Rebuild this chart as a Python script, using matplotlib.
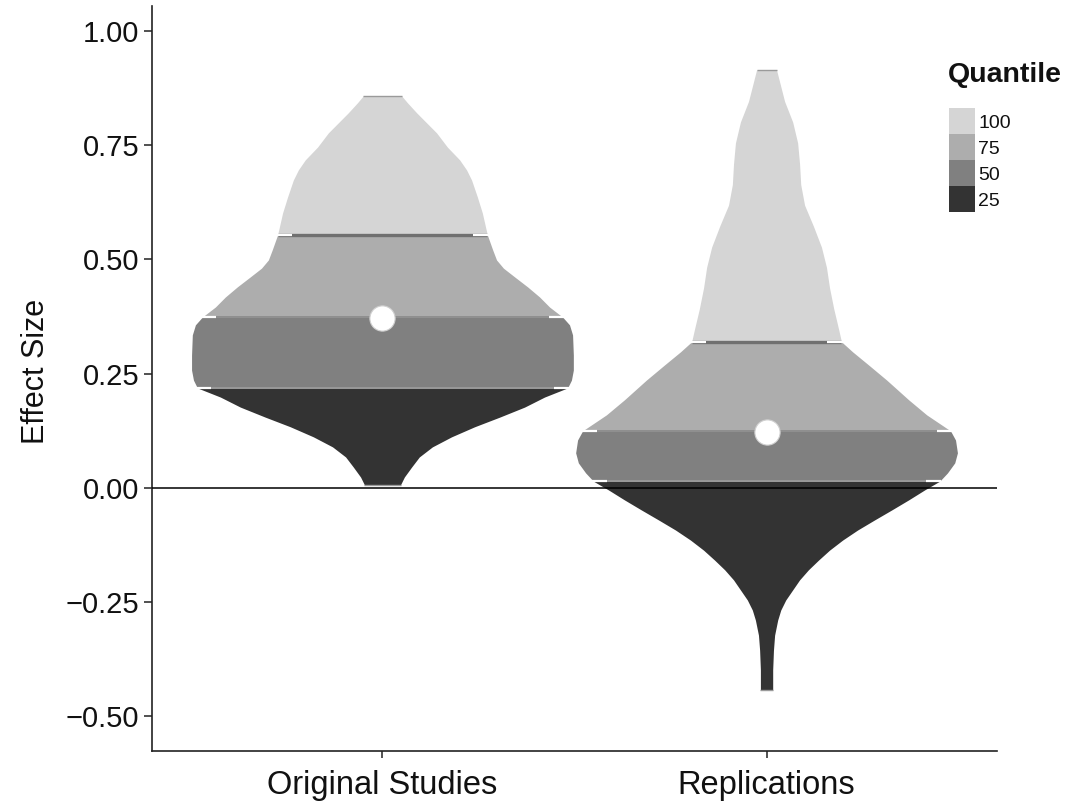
import numpy as np
import matplotlib
matplotlib.use("Agg")
import matplotlib.pyplot as plt
from matplotlib.patches import Rectangle

plt.rcParams['font.family'] = ['Liberation Sans', 'DejaVu Sans']

# ---------------- data ----------------
categories = ["Original Studies", "Replications"]

# violin outline: effect-size values and half-widths (density profile)
orig_y = [0.007, 0.024, 0.046, 0.068, 0.090, 0.112, 0.134, 0.155, 0.177, 0.199,
          0.219, 0.236, 0.258, 0.291, 0.335, 0.357, 0.374, 0.396, 0.418, 0.440,
          0.462, 0.481, 0.499, 0.521, 0.554, 0.602, 0.637, 0.674, 0.696, 0.718,
          0.746, 0.777, 0.799, 0.821, 0.843, 0.858]
orig_w = [0.047, 0.057, 0.076, 0.096, 0.130, 0.180, 0.240, 0.305, 0.370, 0.422,
          0.482, 0.492, 0.497, 0.497, 0.495, 0.487, 0.469, 0.435, 0.409, 0.378,
          0.344, 0.315, 0.297, 0.287, 0.273, 0.260, 0.247, 0.232, 0.219, 0.201,
          0.169, 0.141, 0.115, 0.089, 0.065, 0.050]

rep_y = [-0.442, -0.398, -0.355, -0.322, -0.289, -0.267, -0.245, -0.223, -0.201, -0.179,
         -0.158, -0.136, -0.114, -0.092, -0.070, -0.048, -0.026, -0.004, 0.015, 0.033,
         0.055, 0.077, 0.105, 0.125, 0.160, 0.193, 0.236, 0.269, 0.298, 0.320,
         0.346, 0.392, 0.438, 0.483, 0.527, 0.573, 0.619, 0.664, 0.709, 0.755,
         0.801, 0.846, 0.915]
rep_w = [0.016, 0.016, 0.018, 0.021, 0.029, 0.037, 0.050, 0.068, 0.086, 0.109,
         0.135, 0.164, 0.198, 0.237, 0.281, 0.326, 0.370, 0.412, 0.451, 0.471,
         0.490, 0.497, 0.492, 0.479, 0.417, 0.370, 0.313, 0.266, 0.224, 0.195,
         0.188, 0.175, 0.164, 0.156, 0.143, 0.122, 0.099, 0.089, 0.086, 0.081,
         0.068, 0.047, 0.026]

# quantile boundaries (25th, 50th, 75th) and medians
orig_quantiles = [0.219, 0.374, 0.554]
rep_quantiles = [0.015, 0.125, 0.320]
medians = [0.372, 0.123]

legend_labels = ["100", "75", "50", "25"]
ytick_values = [-0.50, -0.25, 0.00, 0.25, 0.50, 0.75, 1.00]
ytick_labels = ["\u22120.50", "\u22120.25", "0.00", "0.25", "0.50", "0.75", "1.00"]

# ---------------- style ----------------
band_colors = ["#333333", "#808080", "#adadad", "#d5d5d5"]   # 25, 50, 75, 100
stripe_colors = ["#9a9a9a", "#8c8c8c", "#707070"]
stripe_widths = [1.3, 1.3, 2.4]
axis_col = "#222222"

W, H = 1071, 811
fig = plt.figure(figsize=(W / 100, H / 100), dpi=100, facecolor="white")
ax = fig.add_axes([152 / W, (H - 751) / H, (997 - 152) / W, (751 - 6) / H])
ax.set_facecolor("white")

px_per_unit_x = (997 - 152) / 2.2
tick_len = 14 / px_per_unit_x

violins = [(1, orig_y, orig_w, orig_quantiles), (2, rep_y, rep_w, rep_quantiles)]
for pos, ys, ws, qs in violins:
    ys = np.asarray(ys)
    ws = np.asarray(ws)
    edges = [ys.min()] + list(qs) + [ys.max()]
    for i, col in enumerate(band_colors):
        lo, hi = edges[i], edges[i + 1]
        m = (ys >= lo - 1e-9) & (ys <= hi + 1e-9)
        ax.fill_betweenx(ys[m], pos - ws[m], pos + ws[m], color=col, lw=0,
                         zorder=2, antialiased=True)
    # top / bottom trim caps
    for k in (0, -1):
        ax.plot([pos - ws[k], pos + ws[k]], [ys[k], ys[k]], color="#9a9a9a",
                lw=1.0, zorder=2.5, solid_capstyle="butt")
    # quantile boundary stripes
    for j, q in enumerate(qs):
        w = ws[np.argmin(np.abs(ys - q))]
        ax.plot([pos - w, pos + w], [q, q], color=stripe_colors[j],
                lw=stripe_widths[j], zorder=3, solid_capstyle="butt")
        for s in (-1, 1):
            ax.plot([pos + s * (w + 0.004), pos + s * (w - tick_len)], [q, q],
                    color="white", lw=1.6, zorder=3.2, solid_capstyle="butt")

# zero line
ax.axhline(0, color="black", lw=1.1, zorder=4)

# medians
ax.scatter([1, 2], medians, s=330, color="white", edgecolor="#cfcfcf",
           linewidth=0.8, zorder=5)

ax.set_xlim(0.4, 2.6)
ax.set_ylim(-0.5755, 1.0547)
ax.set_xticks([1, 2])
ax.set_xticklabels(categories, fontsize=23.5, color="#111111")
ax.set_yticks(ytick_values)
ax.set_yticklabels(ytick_labels, fontsize=21, color="#111111")
ax.tick_params(axis="y", length=6, width=1.1, color=axis_col, pad=3)
ax.tick_params(axis="x", length=5, width=1.1, color=axis_col, pad=9)

for side in ("top", "right"):
    ax.spines[side].set_visible(False)
for side in ("left", "bottom"):
    ax.spines[side].set_color(axis_col)
    ax.spines[side].set_linewidth(1.2)

fig.text(36 / W, 1 - 371 / H, "Effect Size", rotation=90, ha="center",
         va="center", fontsize=22, color="#111111")

# legend
fig.text(948 / W, 1 - 82 / H, "Quantile", ha="left", va="baseline",
         fontsize=20.5, fontweight="bold", color="#111111")
legend_colors = band_colors[::-1]
for i, (lab, col) in enumerate(zip(legend_labels, legend_colors)):
    top = 108 + 26 * i
    fig.add_artist(Rectangle((949 / W, 1 - (top + 26) / H), 26 / W, 26 / H,
                             transform=fig.transFigure, facecolor=col,
                             edgecolor="none"))
    fig.text(978 / W, 1 - (top + 20) / H, lab, ha="left", va="baseline",
             fontsize=14, color="#111111")

fig.savefig("out.png", dpi=100, facecolor="white")
